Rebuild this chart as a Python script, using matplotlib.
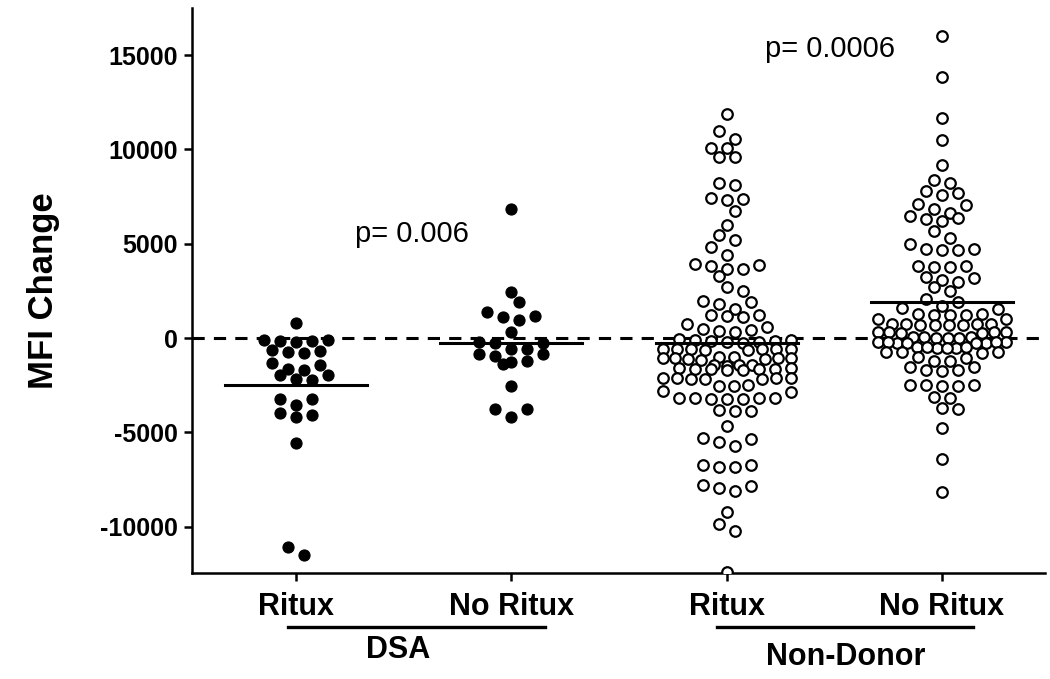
"""Beeswarm-style dot plot of MFI change by antibody group and rituximab use."""

import numpy as np
import matplotlib

matplotlib.use("Agg")
import matplotlib.pyplot as plt
from matplotlib.transforms import blended_transform_factory


# values (MFI change)
dsa_ritux = [800, -100, -150, -150, -200, -100, -650, -750, -800, -700,
             -1400, -1300, -1700, -1650, -1950, -1950, -2200, -2150,
             -3200, -3200, -3550, -3950, -4200, -4100, -5550, -11050, -11500]
dsa_no_ritux = [6850, 2450, 1900, 1400, 1150, 950, 1100, 350, -250, -250, -200,
                -600, -550, -850, -950, -850, -1200, -1350, -1250, -2550,
                -3750, -3750, -4200]
nd_ritux = [11900, 11000, 10550, 10100, 10100, 9600, 9600, 8100, 8200, 7400,
            7300, 7450, 6750, 6000, 5200, 5450, 4850, 4400, 3950, 3800, 3650,
            3650, 3900, 3300, 2700, 2500, 1900, 1550, 1800, 1950, 1250, 1150,
            1100, 1200, 750, 500, 450, 600, 400, 300,
            -50, -100, -150, -150, -200, -200, -250, -100,
            -550, -600, -600, -650, -550, -600, -650, -550,
            -1050, -1100, -1000, -1050, -1150, -1050, -1100, -1050, -1000,
            -1450, -1450, -1500, -1450,
            -1650, -1600, -1650, -1700, -1650, -1600, -1650, -1700,
            -2100, -2150, -2100, -2150, -2100, -2150, -2100,
            -2500, -2550, -2550, -2850, -2800,
            -3150, -3200, -3150, -3200, -3150, -3200, -3150,
            -3850, -3800, -3850, -4650, -5300, -5500, -5700, -5350,
            -6700, -6850, -6850, -6700, -7800, -7950, -8100, -7850,
            -9200, -9850, -10250, -12400]
nd_no_ritux = [16000, 13850, 11650, 10500, 9200, 8400, 8200, 7800, 7600, 7700,
               7100, 6850, 7050, 6650, 6450, 6300, 6200, 6350, 5700, 5300,
               5000, 4750, 4650, 4650, 4750, 3800, 3750, 3750, 3800, 3200,
               2950, 3100, 3250, 2500, 2700, 2100, 1900,
               1700, 1550, 1600, 1250, 1250, 1300, 1250, 1300, 1000, 1000,
               750, 700, 750, 700, 750, 700, 750, 700,
               300, 300, 250, 300, 250, 300, 50, 0, 50, 0, 50, 0,
               -250, -200, -250, -200, -250, -200, -250, -200,
               -500, -450, -500, -450, -500, -450, -750, -750, -800, -750,
               -1000, -1050, -1200, -1200, -1550, -1550, -1700, -1750, -1700,
               -2500, -2550, -2500, -2550, -2500, -3150, -3100, -3700, -3750,
               -4750, -6400, -8150]
group_means = [-2480, -270, -280, 1920]

tick_labels = ["Ritux", "No Ritux", "Ritux", "No Ritux"]
group_names = ["DSA", "Non-Donor"]
p_labels = ["p= 0.006", "p= 0.0006"]

FONT = "Liberation Sans"
plt.rcParams["axes.unicode_minus"] = False


def row_x(axis, center, values, row_px=8.5, step_px=16.0, max_width_px=128.0, size_px=12.0):
    """Prism-like scatter: bin close values into rows, centre each row and
    nudge it half a step sideways when it would sit on the row above."""
    trans = axis.transData
    pixels = trans.transform(np.column_stack([np.full(len(values), center), values]))
    center_px = pixels[0, 0]
    y_px = pixels[:, 1]

    rows, current, top = [], [], None
    for index in np.argsort(-y_px, kind="stable"):
        if current and top - y_px[index] > row_px:
            rows.append(current)
            current = []
        if not current:
            top = y_px[index]
        current.append(index)
    rows.append(current)

    offsets = np.zeros(len(values))
    placed = []
    for row in rows:
        count = len(row)
        step = step_px
        if count > 1 and (count - 1) * step_px > max_width_px:
            step = max_width_px / (count - 1)
        slots = [(k - (count - 1) / 2) * step for k in range(count)]
        # outer slots get the higher values, giving the slight arc of each row
        slots.sort(key=lambda s: (-abs(s), s))
        shifts = [0.0, step / 2, -step / 2] if step == step_px else [0.0]
        best_shift, best_penalty = 0.0, None
        for shift in shifts:
            penalty = 0.0
            for slot, index in zip(slots, row):
                for px, py in placed:
                    dist = np.hypot(slot + shift - px, y_px[index] - py)
                    penalty += max(0.0, size_px - dist)
            if best_penalty is None or penalty < best_penalty - 1e-9:
                best_shift, best_penalty = shift, penalty
        for slot, index in zip(slots, row):
            offsets[index] = slot + best_shift
            placed.append((slot + best_shift, y_px[index]))
    back = trans.inverted().transform(np.column_stack([center_px + offsets, y_px]))
    return back[:, 0]


figure = plt.figure(figsize=(10.5, 6.79), dpi=100)
axis = figure.add_axes([192 / 1050, 1 - 573 / 679, 853 / 1050, 565 / 679])
axis.set_xlim(0.516, 4.48)
axis.set_ylim(-12450, 17500)

positions = [1, 2, 3, 4]
groups = [dsa_ritux, dsa_no_ritux, nd_ritux, nd_no_ritux]
for pos, values, mean in zip(positions, groups, group_means):
    xs = row_x(axis, pos, values)
    if pos <= 2:
        axis.plot(xs, values, "o", ms=8, color="black", mec="black", mew=0.8, zorder=3)
    else:
        axis.plot(xs, values, "o", ms=7.6, mfc="white", mec="black", mew=1.6, zorder=3)
    axis.plot([pos - 0.33, pos + 0.33], [mean, mean], color="black", lw=2.2, zorder=4)

axis.axhline(0, color="black", lw=2.2, dashes=(4, 3), zorder=2)

for side in ("top", "right"):
    axis.spines[side].set_visible(False)
for side in ("left", "bottom"):
    axis.spines[side].set_linewidth(1.8)

axis.set_yticks([-10000, -5000, 0, 5000, 10000, 15000])
axis.set_xticks(positions)
axis.set_xticklabels(tick_labels, fontsize=22, fontweight="bold", family=FONT)
for label in axis.get_yticklabels():
    label.set_fontsize(18)
    label.set_fontweight("bold")
    label.set_family(FONT)
axis.tick_params(axis="both", direction="out", length=6, width=1.8, pad=4)
axis.tick_params(axis="x", pad=8)
axis.set_ylabel("MFI Change", fontsize=25, fontweight="bold", family=FONT, labelpad=29)

# group underlines and names below the category labels
blend = blended_transform_factory(axis.transData, axis.transAxes)
for x0, x1, tx, ty, name in [(0.963, 2.158, 1.474, -0.136, group_names[0]),
                             (2.958, 4.144, 3.553, -0.149, group_names[1])]:
    axis.plot([x0, x1], [-0.096, -0.096], color="black", lw=2.4, transform=blend, clip_on=False)
    axis.text(tx, ty, name, transform=blend, ha="center", va="center",
              fontsize=22, fontweight="bold", family=FONT)

axis.text(1.54, 5500, p_labels[0], ha="center", va="center", fontsize=21, family=FONT)
axis.text(3.48, 15350, p_labels[1], ha="center", va="center", fontsize=21, family=FONT)

figure.savefig("out.png", dpi=100)
